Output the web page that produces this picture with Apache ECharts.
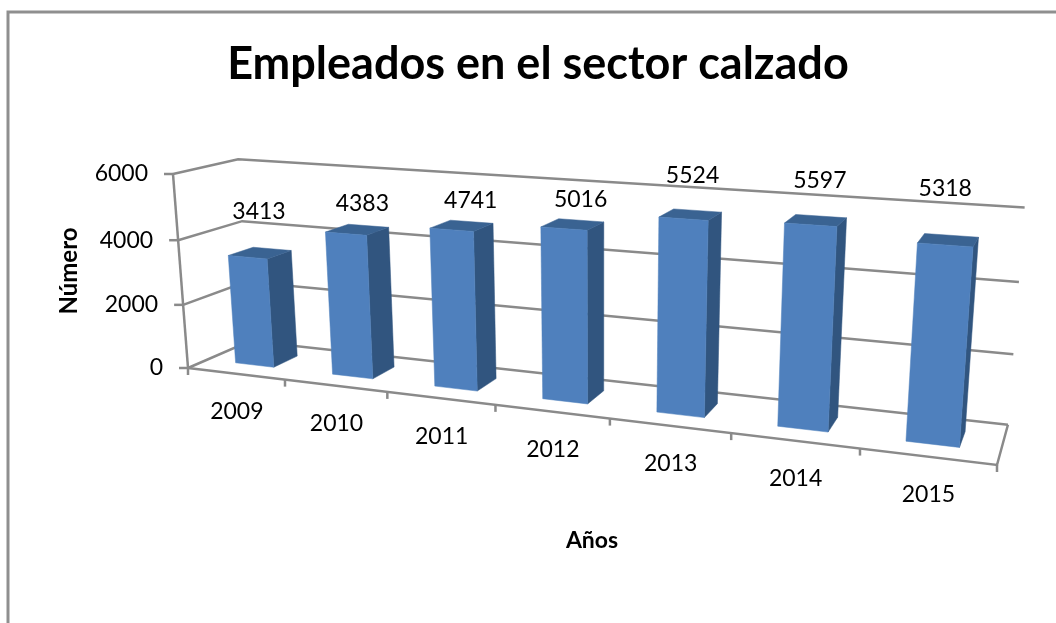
<!DOCTYPE html>
<html>
<head>
<meta charset="utf-8">
<title>Empleados en el sector calzado</title>
<script src="https://cdn.jsdelivr.net/npm/echarts@6/dist/echarts.min.js"></script>
<style>
	html, body { margin: 0; padding: 0; background: #fff; }
	#main { width: 1056px; height: 623px; }
</style>
</head>
<body>
<div id="main"></div>
<script>
	var years = ['2009', '2010', '2011', '2012', '2013', '2014', '2015'];
	var empleados = [3413, 4383, 4741, 5016, 5524, 5597, 5318];
	var yTicks = [0, 2000, 4000, 6000];

	// Excel places these labels by hand, so each one has its own lift off the bar top
	var labelLift = [[-1, -41], [5, -26], [9, -25], [8, -25], [2, -39], [4, -40], [-3, -51]];

	var FONT = 'Lato, Carlito, "Noto Sans", sans-serif';
	var AXIS_COLOR = '#8a8a8a';

	// perspective box: corners on screen and the depth terms of the projection
	var O = [188, 368], U = [997, 465], V = [173, 174], W = [250, 341];
	var pa = -0.1826, pb = -0.035, pc = 0.07;

	function project(u, v, w) {
		var d = 1 + pa * u + pb * v + pc * w;
		return [0, 1].map(function (i) {
			var n = O[i] +
				(U[i] * (1 + pa) - O[i]) * u +
				(V[i] * (1 + pb) - O[i]) * v +
				(W[i] * (1 + pc) - O[i]) * w;
			return n / d;
		});
	}

	function toUnit(params, api, cat, val) {
		var cs = params.coordSys;
		var p = api.coord([cat, val]);
		return {
			u: (p[0] - cs.x) / cs.width,
			v: (cs.y + cs.height - p[1]) / cs.height,
			band: api.size([1, 0])[0] / cs.width
		};
	}

	function line(points, width) {
		return {
			type: 'polyline',
			shape: { points: points },
			style: { stroke: AXIS_COLOR, lineWidth: width || 2.5, fill: null }
		};
	}

	function text(str, x, y, size, align) {
		return {
			type: 'text',
			style: {
				text: str,
				x: x,
				y: y,
				textAlign: align || 'center',
				textVerticalAlign: 'middle',
				font: size + 'px ' + FONT,
				fill: '#000'
			}
		};
	}

	function face(points, color) {
		return {
			type: 'polygon',
			shape: { points: points },
			style: { fill: color, stroke: color, lineWidth: 0.5 }
		};
	}

	function renderGrid(params, api) {
		var tick = api.value(1);
		var v = toUnit(params, api, 0, tick).v;
		var front = project(0, v, 0);
		var children = [
			line([front, project(0, v, 1), project(1, v, 1)]),
			line([[front[0] - 9, front[1]], front]),
			text(String(tick), front[0] - 25, front[1], 23, 'right')
		];
		if (tick === 0) {
			children.push(line([project(0, 0, 0), project(0, 1, 0)]));
			children.push(line([project(0, 0, 0), project(1, 0, 0), project(1, 0, 1)]));
		}
		return { type: 'group', children: children };
	}

	function renderCategory(params, api) {
		var i = api.value(0);
		var unit = toUnit(params, api, i, 0);
		var left = project(unit.u - unit.band / 2, 0, 0);
		var mid = project(unit.u, 0, 0);
		var children = [
			line([left, [left[0], left[1] + 7]]),
			text(years[i], mid[0] + 1, mid[1] + 38, 23)
		];
		if (i === years.length - 1) {
			var right = project(1, 0, 0);
			children.push(line([right, [right[0], right[1] + 7]]));
		}
		return { type: 'group', children: children };
	}

	function renderBar(params, api) {
		var i = api.value(0);
		var unit = toUnit(params, api, i, api.value(1));
		var half = unit.band * 0.2;
		var u0 = unit.u - half, u1 = unit.u + half, v = unit.v;
		var w0 = 0.3, w1 = 0.7;
		var top = project(unit.u, v, 0.5);
		return {
			type: 'group',
			children: [
				face([project(u1, 0, w0), project(u1, 0, w1), project(u1, v, w1), project(u1, v, w0)], '#31557f'),
				face([project(u0, v, w0), project(u1, v, w0), project(u1, v, w1), project(u0, v, w1)], '#3a6392'),
				face([project(u0, 0, w0), project(u1, 0, w0), project(u1, v, w0), project(u0, v, w0)], '#4f80bd'),
				text(String(api.value(1)), top[0] + labelLift[i][0], top[1] + labelLift[i][1], 23)
			]
		};
	}

	var option = {
		animation: false,
		backgroundColor: '#fff',
		title: {
			text: 'Empleados en el sector calzado',
			left: 533,
			top: 37,
			textAlign: 'center',
			textStyle: { fontFamily: FONT, fontSize: 45, fontWeight: 'bold', color: '#000' }
		},
		grid: { left: 0, top: 0, width: 700, height: 400 },
		xAxis: { type: 'category', data: years, show: false },
		yAxis: { type: 'value', min: 0, max: 6000, interval: 2000, show: false },
		graphic: [
			{
				type: 'polyline',
				shape: { points: [[8, 623], [8, 12], [1056, 12]] },
				style: { stroke: '#8f8f8f', lineWidth: 3, fill: null },
				silent: true
			},
			{
				type: 'text',
				x: 592,
				y: 541,
				style: { text: 'Años', font: 'bold 23px ' + FONT, fill: '#000', textAlign: 'center', textVerticalAlign: 'middle' },
				silent: true
			},
			{
				type: 'text',
				x: 69,
				y: 271,
				rotation: Math.PI / 2,
				style: { text: 'Número', font: 'bold 24px ' + FONT, fill: '#000', textAlign: 'center', textVerticalAlign: 'middle' },
				silent: true
			}
		],
		series: [
			{
				type: 'custom',
				silent: true,
				renderItem: renderGrid,
				encode: { x: 0, y: 1 },
				data: yTicks.map(function (t) { return [0, t]; })
			},
			{
				type: 'custom',
				silent: true,
				renderItem: renderCategory,
				encode: { x: 0, y: 1 },
				data: years.map(function (y, i) { return [i, 0]; })
			},
			{
				type: 'custom',
				silent: true,
				renderItem: renderBar,
				encode: { x: 0, y: 1 },
				data: empleados.map(function (val, i) { return [i, val]; })
			}
		]
	};

	var chart = echarts.init(document.getElementById('main'));
	chart.setOption(option);
	window.addEventListener('resize', function () { chart.resize(); });
</script>
</body>
</html>
